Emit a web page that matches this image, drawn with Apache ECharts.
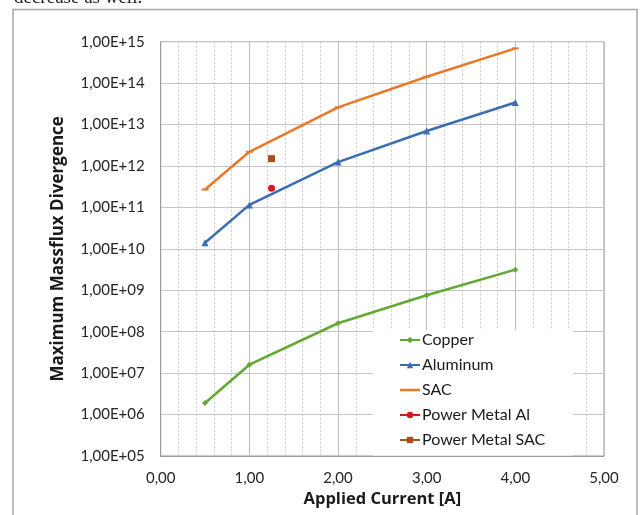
<!DOCTYPE html>
<html>
<head>
<meta charset="utf-8">
<script src="https://cdn.jsdelivr.net/npm/echarts@6/dist/echarts.min.js"></script>
<style>
html,body{margin:0;padding:0;background:#fff;}
#chart{width:641px;height:515px;}
</style>
</head>
<body>
<div id="chart"></div>
<script>
// x values (Applied Current [A])
var currents = [0.5, 1.0, 2.0, 3.0, 4.0];
// series values (Maximum Massflux Divergence)
var copper   = [1.9e6, 1.6e7, 1.6e8, 7.6e8, 3.15e9];
var aluminum = [1.4e10, 1.15e11, 1.24e12, 7.0e12, 3.4e13];
var sac      = [2.7e11, 2.2e12, 2.6e13, 1.43e14, 6.9e14];
var pmAlX = [1.25];
var pmAl  = [2.9e11];
var pmSacX = [1.25];
var pmSac  = [1.5e12];
var seriesNames = ['Copper', 'Aluminum', 'SAC', 'Power Metal Al', 'Power Metal SAC'];

function pairs(xs, ys) { return xs.map(function (x, i) { return [x, ys[i]]; }); }

var font = 'Lato';
var titleFont = 'Open Sans';
var chart = echarts.init(document.getElementById('chart'), null, {renderer: 'canvas'});

var legendData = seriesNames.map(function (n) {
  if (n === 'SAC') return {name: n, icon: 'path://M0,0 L20,0 L20,2.5 L0,2.5 Z'};
  return {name: n};
});

var option = {
  backgroundColor: '#ffffff',
  animation: false,
  textStyle: {fontFamily: font},
  grid: {left: 160.7, right: 37, top: 41.7, bottom: 59, show: true, borderColor: '#9a9a9a', borderWidth: 1},
  graphic: [
    {type: 'rect', shape: {x: 13, y: 9.5, width: 624, height: 530}, style: {fill: 'none', stroke: '#a6a6a6', lineWidth: 1.5}, z: 0, silent: true},
    {type: 'text', x: 14, y: -11, style: {text: 'decrease as well.', font: '19px "Liberation Serif"', fill: '#222'}},
    {type: 'rect', shape: {x: 373, y: 330, width: 200, height: 125.5}, style: {fill: '#ffffff'}, z: 3, silent: true}
  ],
  legend: {
    orient: 'vertical',
    left: 394, top: 327,
    itemWidth: 20, itemHeight: 8, itemGap: 9,
    data: legendData,
    textStyle: {fontFamily: font, fontSize: 16, color: '#1a1a1a', padding: [0, 0, 0, -3]},
    z: 5
  },
  xAxis: {
    type: 'value', min: 0, max: 5, interval: 1,
    name: 'Applied Current [A]', nameLocation: 'middle', nameGap: 33,
    nameTextStyle: {fontFamily: titleFont, fontSize: 16.5, fontWeight: 'bold', color: '#1a1a1a'},
    axisLine: {show: true, lineStyle: {color: '#9a9a9a'}},
    axisTick: {show: false},
    axisLabel: {fontFamily: font, fontSize: 15, color: '#262626', margin: 15,
      formatter: function (v) { return v.toFixed(2).replace('.', ','); }},
    splitLine: {show: true, lineStyle: {color: '#bdbdbd', width: 1}},
    minorTick: {show: false, splitNumber: 5},
    minorSplitLine: {show: true, lineStyle: {color: '#c8c8c8', type: [2, 2], width: 1}}
  },
  yAxis: {
    type: 'log', logBase: 10, min: 1e5, max: 1e15, interval: 1,
    name: 'Maximum Massflux Divergence', nameLocation: 'middle', nameGap: 94,
    nameTextStyle: {fontFamily: titleFont, fontSize: 17, fontWeight: 'bold', color: '#1a1a1a'},
    axisLine: {show: true, lineStyle: {color: '#9a9a9a'}},
    axisTick: {show: false},
    axisLabel: {fontFamily: font, fontSize: 15, color: '#262626', margin: 16,
      formatter: function (v) {
        var e = Math.round(Math.log10(v));
        return '1,00E+' + (e < 10 ? '0' : '') + e;
      }},
    splitLine: {show: true, lineStyle: {color: '#c4c4c4', width: 1}}
  },
  series: [
    {name: 'Copper', type: 'line', data: pairs(currents, copper), color: '#62a832',
      lineStyle: {width: 2.5}, symbol: 'diamond', symbolSize: 6, z: 2},
    {name: 'Aluminum', type: 'line', data: pairs(currents, aluminum), color: '#3a6eb2',
      lineStyle: {width: 2.5}, symbol: 'triangle', symbolSize: 7, z: 2},
    {name: 'SAC', type: 'line', data: pairs(currents, sac), color: '#e8782a',
      lineStyle: {width: 2.5}, symbol: 'rect', symbolSize: [7, 2], z: 2},
    {name: 'Power Metal Al', type: 'line', data: pairs(pmAlX, pmAl), color: '#d21a1a',
      lineStyle: {width: 2.5}, symbol: 'circle', symbolSize: 7, z: 2},
    {name: 'Power Metal SAC', type: 'line', data: pairs(pmSacX, pmSac), color: '#a4521c',
      lineStyle: {width: 2.5}, symbol: 'rect', symbolSize: 7, z: 2}
  ]
};
chart.setOption(option);
</script>
</body>
</html>
